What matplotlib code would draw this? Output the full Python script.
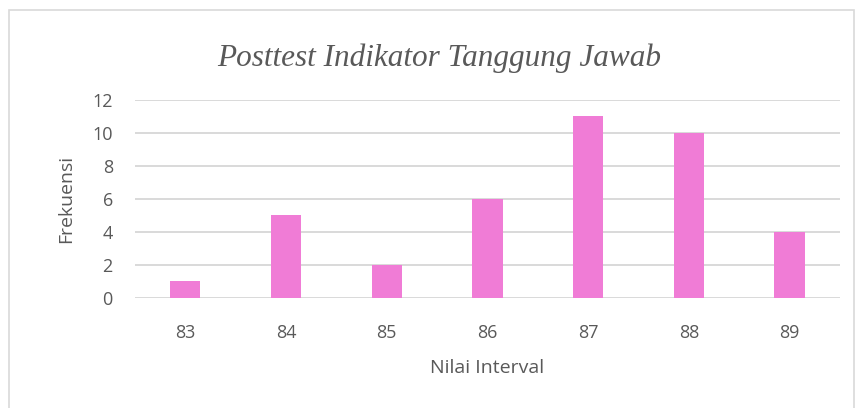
import matplotlib.pyplot as plt
from matplotlib.patches import Rectangle

categories = ["83", "84", "85", "86", "87", "88", "89"]
frekuensi = [1, 5, 2, 6, 11, 10, 4]
y_ticks = [0, 2, 4, 6, 8, 10, 12]

text_color = "#595959"
grid_color = "#D9D9D9"
bar_color = "#F07CD6"

fig = plt.figure(figsize=(8.57, 4.08), dpi=100)
ax = fig.add_axes([0.1575, 0.2696, 0.8225, 0.4854])

x = range(len(categories))
ax.bar(x, frekuensi, width=0.3, color=bar_color, zorder=3)
ax.set_xlim(-0.5, len(categories) - 0.5)
ax.set_ylim(0, 12)
ax.set_yticks(y_ticks)
ax.set_xticks(list(x))
ax.set_xticklabels(categories)
ax.grid(axis="y", color=grid_color, linewidth=1.4, zorder=0)
for s in ax.spines.values():
    s.set_visible(False)
ax.tick_params(length=0, labelsize=13, labelcolor=text_color)
ax.tick_params(axis="x", pad=19)
ax.tick_params(axis="y", pad=16)

ax.set_xlabel("Nilai Interval", fontsize=14, color=text_color, labelpad=12, family="Open Sans")
ax.set_ylabel("Frekuensi", fontsize=14, color=text_color, labelpad=12, family="Open Sans")
for lab in ax.get_xticklabels() + ax.get_yticklabels():
    lab.set_family("Open Sans")

fig.text(0.513, 0.858, "Posttest Indikator Tanggung Jawab", ha="center", va="center",
         fontsize=22.5, style="italic", family="Liberation Serif", color=text_color)

fig.patches.append(Rectangle((9 / 857, -0.1), 845 / 857, 1 - 10 / 408 + 0.1,
                             transform=fig.transFigure, fill=False,
                             edgecolor=grid_color, linewidth=1.2))

fig.savefig("out.png", dpi=100)
